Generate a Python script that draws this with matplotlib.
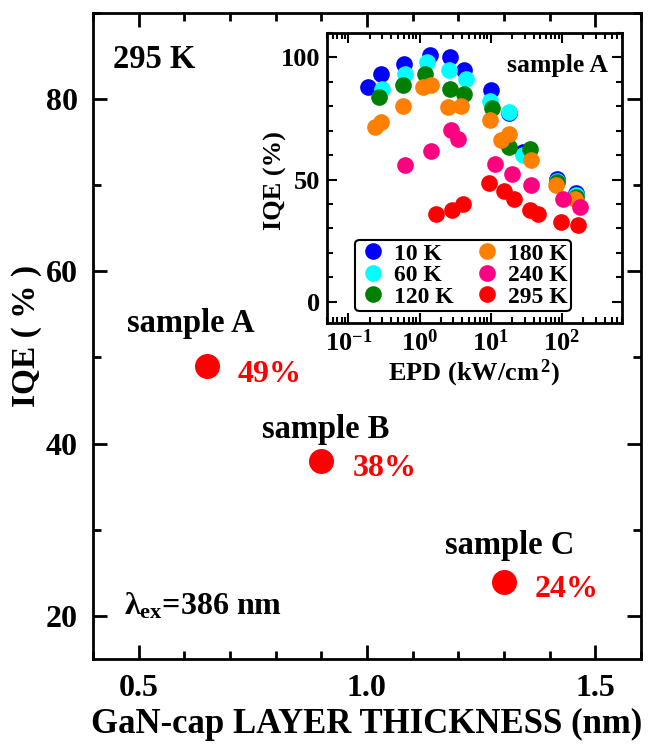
import matplotlib
matplotlib.use("Agg")
import matplotlib.pyplot as plt
from matplotlib.ticker import MultipleLocator, LogLocator, NullFormatter, FormatStrFormatter

plt.rcParams["font.family"] = "Liberation Serif"
plt.rcParams["font.weight"] = "bold"
plt.rcParams["axes.labelweight"] = "bold"
plt.rcParams["mathtext.fontset"] = "custom"
plt.rcParams["mathtext.rm"] = "Liberation Serif:bold"
plt.rcParams["mathtext.it"] = "Liberation Serif:bold"
plt.rcParams["mathtext.bf"] = "Liberation Serif:bold"

# Main panel: IQE at 295 K vs GaN cap thickness
samples = ["sample A", "sample B", "sample C"]
thickness = [0.65, 0.90, 1.30]
iqe_main = [49, 38, 24]

# Inset: IQE vs excitation power density, sample A
epd_10 = [0.186, 0.286, 0.607, 1.40, 2.64, 4.19, 10.1, 18.2, 28.2, 85.6, 158]
iqe_10 = [87.8, 93.2, 97.3, 100.7, 100.0, 94.6, 86.4, 77.0, 61.3, 50.1, 44.3]
epd_60 = [0.30, 0.627, 1.28, 2.59, 4.52, 9.7, 18.2, 28.0, 85.6, 160]
iqe_60 = [87.1, 93.2, 98.0, 94.6, 91.2, 82.0, 77.6, 59.9, 49.4, 43.6]
epd_120 = [0.27, 0.59, 1.19, 2.67, 4.19, 10.5, 18.2, 35.9, 85.6, 158]
iqe_120 = [83.7, 88.5, 93.0, 87.1, 85.1, 79.4, 63.3, 62.6, 49.0, 43.0]
epd_180 = [0.239, 0.286, 0.59, 1.12, 1.46, 2.53, 3.77, 9.9, 14.1, 18.2, 36.6, 83.7, 153]
iqe_180 = [71.5, 73.5, 79.9, 88.0, 88.5, 79.6, 79.9, 74.5, 66.0, 68.8, 57.9, 47.7, 42.2]
epd_240 = [0.627, 1.46, 2.73, 3.49, 11.6, 20.0, 36.6, 103, 179]
iqe_240 = [55.8, 61.7, 70.1, 66.7, 56.5, 52.2, 47.7, 42.2, 38.8]
epd_295 = [1.72, 2.88, 4.06, 9.4, 15.2, 21.5, 35.9, 46.9, 96, 170]
iqe_295 = [36.1, 37.5, 39.9, 48.6, 45.3, 42.2, 37.5, 36.1, 32.7, 31.4]

series = [
    ("10 K", epd_10, iqe_10, "#0000ff"),
    ("60 K", epd_60, iqe_60, "#00ffff"),
    ("120 K", epd_120, iqe_120, "#007f00"),
    ("180 K", epd_180, iqe_180, "#ff7f00"),
    ("240 K", epd_240, iqe_240, "#ff0080"),
    ("295 K", epd_295, iqe_295, "#ff0000"),
]

fig = plt.figure(figsize=(6.54, 7.44), dpi=100)
ax = fig.add_axes([0.142, 0.114, 0.838, 0.869])

ax.plot(thickness, iqe_main, "o", color="#ff0000", markersize=18, markeredgewidth=0)
ax.set_xlim(0.4, 1.6)
ax.set_ylim(15, 90)
ax.xaxis.set_major_locator(MultipleLocator(0.5))
ax.xaxis.set_minor_locator(MultipleLocator(0.1))
ax.yaxis.set_major_locator(MultipleLocator(20))
ax.yaxis.set_minor_locator(MultipleLocator(10))
ax.tick_params(which="both", direction="in", top=True, right=True, width=2, labelsize=23)
ax.tick_params(which="major", length=10, pad=11)
ax.tick_params(which="minor", length=6)
for sp in ax.spines.values():
    sp.set_linewidth(2)
ax.xaxis.set_major_formatter(FormatStrFormatter("%.1f"))
ax.set_xlabel("GaN-cap LAYER THICKNESS (nm)", fontsize=25, labelpad=3)
ax.set_ylabel("IQE ( % )", fontsize=24)
ax.yaxis.set_label_coords(-0.093, 0.5)

label_pos = [(0.615, 52.9), (0.91, 40.6), (1.312, 27.2)]
for s, (lx, ly) in zip(samples, label_pos):
    ax.text(lx, ly, s, fontsize=23.5, ha="center", va="baseline")
for x, y in zip(thickness, iqe_main):
    ax.text(x + 0.068, y - 1.8, f"{y}%", fontsize=23, color="#ff0000", va="baseline")
ax.text(0.444, 83.6, "295 K", fontsize=23.5, va="baseline")
ax.text(0.469, 20.2, r"λ$_{\rm ex}$=386 nm", fontsize=23, va="baseline")

# inset
ins = fig.add_axes([0.500, 0.566, 0.451, 0.390])
for name, x, y, c in series:
    ins.plot(x, y, "o", color=c, markersize=12, markeredgewidth=0, label=name)
ins.set_xscale("log")
ins.set_xlim(0.05, 700)
ins.set_ylim(-8.6, 110)
ins.xaxis.set_major_locator(LogLocator(base=10, numticks=10))
ins.xaxis.set_minor_locator(LogLocator(base=10, subs=range(2, 10), numticks=20))
ins.xaxis.set_minor_formatter(NullFormatter())
ins.yaxis.set_major_locator(MultipleLocator(50))
ins.yaxis.set_minor_locator(MultipleLocator(10))
ins.tick_params(which="both", direction="in", top=True, right=True, width=1.5, labelsize=19)
ins.tick_params(which="major", length=7, pad=5)
ins.tick_params(which="minor", length=4)
for sp in ins.spines.values():
    sp.set_linewidth(2)
ins.set_xlabel("EPD (kW/cm$^{\\,2}$)", fontsize=19, labelpad=1)
ins.set_ylabel("IQE (%)", fontsize=19)
ins.yaxis.set_label_coords(-0.135, 0.49)
ins.text(0.78, 0.866, "sample A", fontsize=18.5, ha="center", va="baseline", transform=ins.transAxes)
leg = ins.legend(ncol=2, loc="lower left", bbox_to_anchor=(0.095, 0.04), fontsize=17,
                 handletextpad=0.3, columnspacing=0.8, labelspacing=0.0, borderpad=0.15,
                 handlelength=1.2, markerscale=1.0, fancybox=True, framealpha=1,
                 borderaxespad=0)
leg.get_frame().set_edgecolor("black")
leg.get_frame().set_linewidth(1.5)

fig.savefig("out.png", dpi=100)
